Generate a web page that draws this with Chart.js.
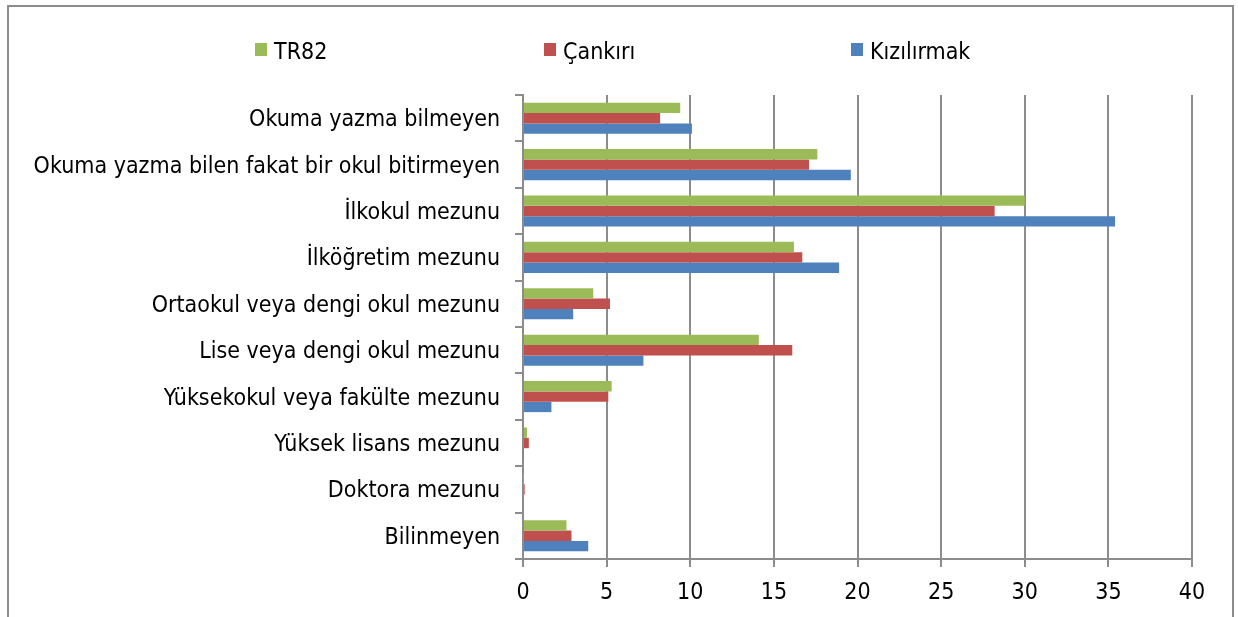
<!DOCTYPE html>
<html><head><meta charset="utf-8">
<script src="https://cdn.jsdelivr.net/npm/chart.js@4.4.0/dist/chart.umd.min.js"></script>
<style>html,body{margin:0;padding:0;background:#fff;} canvas{display:block;}</style>
</head><body>
<canvas id="c" width="1238" height="617"></canvas>
<script>
const categories = [
  'Okuma yazma bilmeyen',
  'Okuma yazma bilen fakat bir okul bitirmeyen',
  'İlkokul mezunu',
  'İlköğretim mezunu',
  'Ortaokul veya dengi okul mezunu',
  'Lise veya dengi okul mezunu',
  'Yüksekokul veya fakülte mezunu',
  'Yüksek lisans mezunu',
  'Doktora mezunu',
  'Bilinmeyen'
];
const seriesNames = ['TR82', 'Çankırı', 'Kızılırmak'];
const tr82       = [9.4, 17.6, 30.0, 16.2, 4.2, 14.1, 5.3, 0.24, 0.03, 2.6];
const cankiri    = [8.2, 17.1, 28.2, 16.7, 5.2, 16.1, 5.1, 0.35, 0.1, 2.9];
const kizilirmak = [10.1, 19.6, 35.4, 18.9, 3.0, 7.2, 1.7, 0.03, 0.0, 3.9];
const xTicks = [0, 5, 10, 15, 20, 25, 30, 35, 40];
const seriesColors = ['#9BBB59', '#C0504D', '#4F81BD'];

const FONT = "'DejaVu Sans Condensed', 'DejaVu Sans', sans-serif";
Chart.defaults.font.family = FONT;
Chart.defaults.font.size = 23;
Chart.defaults.color = '#000';

const GRID = '#8c8c8c';

const framePlugin = {
  id: 'frame',
  beforeDraw(chart) {
    const ctx = chart.ctx;
    ctx.save();
    ctx.fillStyle = '#fff';
    ctx.fillRect(0, 0, chart.width, chart.height);
    ctx.strokeStyle = GRID;
    ctx.lineWidth = 2;
    ctx.strokeRect(8, 6, 1225, 700);
    ctx.restore();
  }
};

const legendPlugin = {
  id: 'excelLegend',
  afterDraw(chart, args, opts) {
    const ctx = chart.ctx;
    ctx.save();
    ctx.font = '23px ' + FONT;
    ctx.textBaseline = 'alphabetic';
    ctx.textAlign = 'left';
    chart.data.datasets.forEach((ds, i) => {
      const x = opts.x[i];
      ctx.fillStyle = ds.backgroundColor;
      ctx.fillRect(x, opts.boxTop, 12, 13);
      ctx.fillStyle = '#000';
      ctx.fillText(ds.label, x + 19, opts.baseline);
    });
    ctx.restore();
  }
};

const seriesData = [tr82, cankiri, kizilirmak];

new Chart(document.getElementById('c'), {
  type: 'bar',
  data: {
    labels: categories,
    datasets: seriesNames.map((name, i) => ({
      label: name,
      data: seriesData[i],
      backgroundColor: seriesColors[i],
      borderWidth: 0,
      categoryPercentage: 0.67,
      barPercentage: 1.0
    }))
  },
  options: {
    indexAxis: 'y',
    responsive: false,
    animation: false,
    events: [],
    layout: { padding: { top: 95, right: 46, bottom: 0, left: 0 } },
    plugins: {
      legend: { display: false },
      tooltip: { enabled: false },
      excelLegend: { x: [255, 544, 851], boxTop: 43, baseline: 59 }
    },
    scales: {
      x: {
        min: 0, max: 40,
        afterBuildTicks(s) { s.ticks = xTicks.map(v => ({ value: v })); },
        ticks: { color: '#000', font: { size: 23 }, padding: 12, maxRotation: 0 },
        grid: { color: GRID, lineWidth: 2, tickLength: 8 },
        border: { color: GRID, width: 2 },
        afterFit(s) { s.height = 58; }
      },
      y: {
        ticks: { color: '#000', font: { size: 23 }, padding: 15, labelOffset: 2 },
        grid: { drawOnChartArea: false, offset: true, color: GRID, lineWidth: 2, tickLength: 8 },
        border: { color: GRID, width: 2 },
        afterFit(s) { s.width = 523; }
      }
    }
  },
  plugins: [framePlugin, legendPlugin]
});
</script>
</body></html>
